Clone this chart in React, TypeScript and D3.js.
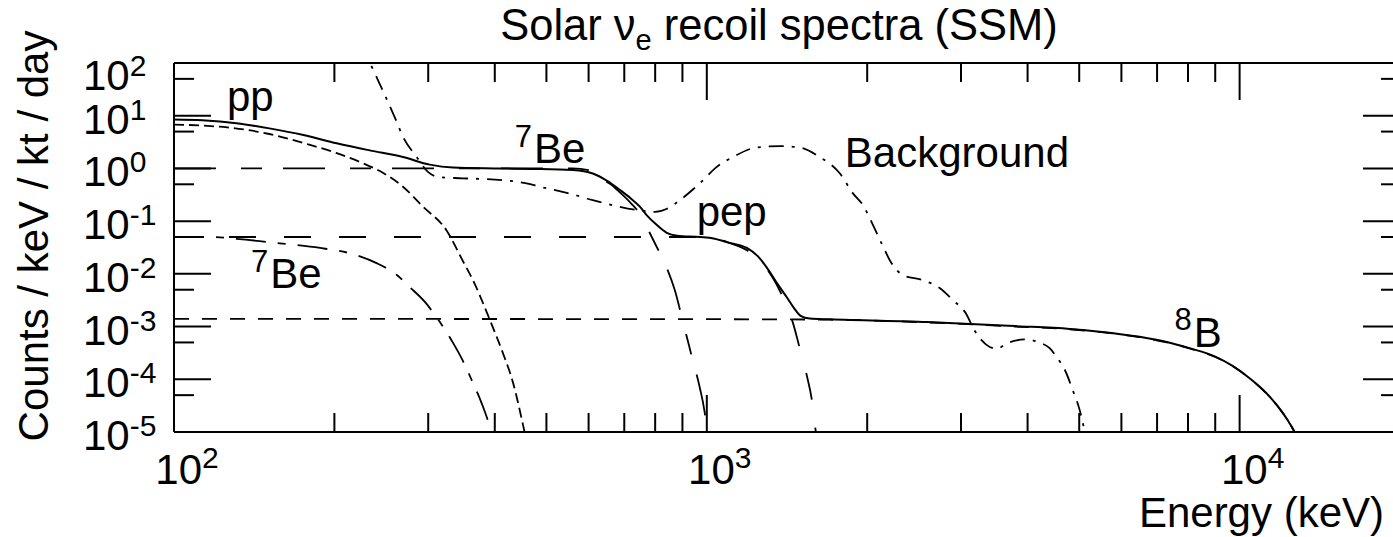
import React from "react";
import * as d3 from "d3";

type Pt = [number, number]; // [energy keV, counts / keV / kt / day]

const WIDTH = 1393;
const HEIGHT = 537;

const energyDomain: [number, number] = [100, 20000];
const countDomain: [number, number] = [1e-5, 1e2];

const xDecades = [100, 1000, 10000];
const yDecades = [1e2, 1e1, 1e0, 1e-1, 1e-2, 1e-3, 1e-4, 1e-5];
const yMinor = [50, 5, 0.5, 0.05, 0.005, 0.0005, 0.00005];

// Summed solar neutrino recoil spectrum
const totalSpectrum: Pt[] = [
  [100, 8.5], [113, 8.2], [131, 7.2], [151, 5.75], [175, 4.3], [202, 3.0], [233, 2.2],
  [269, 1.65], [302, 1.18], [334, 1.04], [400, 1.0], [470, 0.98], [561, 0.93], [611, 0.8],
  [650, 0.58], [687, 0.39], [720, 0.27], [748, 0.19], [771, 0.13], [805, 0.085], [841, 0.06],
  [880, 0.053], [970, 0.05], [1030, 0.047], [1089, 0.04], [1189, 0.031], [1250, 0.021],
  [1297, 0.013], [1350, 0.007], [1413, 0.0036], [1460, 0.0022], [1500, 0.0016], [1560, 0.00142],
  [1700, 0.00137], [2590, 0.00122], [3800, 0.00102], [4800, 0.0009], [5460, 0.0008],
  [6490, 0.00064], [7300, 0.00051], [8050, 0.00039], [9000, 0.00027], [9700, 0.00018],
  [10500, 0.0001], [11220, 0.000055], [12050, 0.000023], [12500, 0.000013], [12680, 0.00001],
];

const ppSpectrum: Pt[] = [
  [100, 6.8], [113, 6.5], [126, 6.0], [151, 4.5], [180, 2.8], [202, 1.95], [226, 1.26],
  [247, 0.82], [269, 0.45], [293, 0.19], [325, 0.066], [348, 0.018], [364, 0.0076],
  [392, 0.0013], [414, 0.00032], [433, 0.000085], [452, 0.0000135], [456, 0.000009],
];

const be7HighSpectrum: Pt[] = [
  [100, 1.0], [560, 1.0], [600, 0.93], [631, 0.65], [660, 0.5], [687, 0.35], [720, 0.22],
  [748, 0.14], [782, 0.059], [806, 0.032], [841, 0.013], [871, 0.0049], [901, 0.0013],
  [941, 0.00023], [970, 0.00007], [990, 0.000025], [1003, 0.000009],
];

const be7LowSpectrum: Pt[] = [
  [100, 0.05], [118, 0.05], [131, 0.046], [158, 0.038], [188, 0.031], [219, 0.023],
  [240, 0.016], [262, 0.0095], [277, 0.0056], [296, 0.0029], [311, 0.0015], [334, 0.00049],
  [348, 0.00023], [364, 0.000085], [378, 0.000035], [392, 0.000012], [395, 0.000009],
];

const pepSpectrum: Pt[] = [
  [100, 0.05], [1000, 0.05], [1050, 0.046], [1100, 0.039], [1190, 0.028], [1250, 0.019],
  [1300, 0.012], [1350, 0.0065], [1413, 0.0024], [1450, 0.0012], [1493, 0.0004],
  [1540, 0.00012], [1575, 0.00004], [1600, 0.000011], [1605, 0.000009],
];

const b8Spectrum: Pt[] = [
  [100, 0.0014], [1000, 0.00138], [1700, 0.00135], [2590, 0.0012], [3800, 0.001],
  [4800, 0.00089], [5460, 0.00079], [6490, 0.00063], [7300, 0.0005], [8050, 0.000385],
  [9000, 0.000265], [9700, 0.000178], [10500, 0.0001], [11220, 0.000054], [12050, 0.000023],
  [12500, 0.000013], [12680, 0.00001],
];

const backgroundSpectrum: Pt[] = [
  [222, 200], [233, 100], [242, 45], [251, 20], [260, 9], [269, 4], [286, 1.6], [300, 0.85],
  [316, 0.68], [348, 0.65], [414, 0.6], [459, 0.52], [486, 0.45], [561, 0.32], [611, 0.25],
  [667, 0.2], [748, 0.16], [800, 0.15], [840, 0.17], [890, 0.25], [970, 0.52], [1044, 1.07],
  [1120, 1.65], [1241, 2.5], [1371, 2.65], [1494, 2.5], [1628, 1.65], [1778, 0.8],
  [1879, 0.34], [1964, 0.2], [2050, 0.085], [2128, 0.038], [2221, 0.016], [2333, 0.0095],
  [2543, 0.0076], [2735, 0.0054], [2895, 0.0032], [3072, 0.0017], [3162, 0.00094],
  [3350, 0.00045], [3500, 0.00038], [3670, 0.00049], [3980, 0.00057], [4200, 0.0005],
  [4400, 0.00039], [4540, 0.00026], [4700, 0.00015], [4860, 0.000063], [5010, 0.000026],
  [5120, 0.00001], [5130, 0.000009],
];

const FONT = "'Liberation Sans', Arial, Helvetica, sans-serif";

export default function App() {
  const x = d3.scaleLog().domain(energyDomain).range([174, 1400]);
  const y = d3.scaleLog().domain(countDomain).range([432, 63]);
  const [x0, x1] = x.range();
  const [yb, yt] = y.range();

  const line = d3
    .line<Pt>()
    .x((d) => x(d[0]))
    .y((d) => y(d[1]))
    .curve(d3.curveMonotoneX);

  const series = [
    { key: "background", data: backgroundSpectrum, dash: "15 8 3 8", width: 1.8 },
    { key: "b8", data: b8Spectrum, dash: "15 13", width: 1.8 },
    { key: "be7low", data: be7LowSpectrum, dash: "30 12 8 12", width: 1.8 },
    { key: "pep", data: pepSpectrum, dash: "27 28", width: 1.8 },
    { key: "be7high", data: be7HighSpectrum, dash: "42 25 21 21", width: 1.8 },
    { key: "pp", data: ppSpectrum, dash: "10 5", width: 1.8 },
    { key: "total", data: totalSpectrum, dash: undefined, width: 2 },
  ];

  const xMinor = x
    .ticks()
    .filter((v) => v > energyDomain[0] && v < energyDomain[1] && !xDecades.includes(v));

  const MAJ = 37;
  const MIN = 19;
  const exp = (v: number) => String(Math.round(Math.log10(v)));

  return (
    <svg
      width={WIDTH}
      height={HEIGHT}
      style={{ position: "absolute", left: 0, top: 0, background: "#fff" }}
      fontFamily={FONT}
    >
      <defs>
        <clipPath id="plot-area">
          <rect x={x0} y={yt} width={x1 - x0} height={yb - yt + 1} />
        </clipPath>
      </defs>

      {/* title */}
      <text x={779} y={40} fontSize={43.5} textAnchor="middle">
        Solar ν<tspan fontSize={29} dy={10}>e</tspan>
        <tspan dy={-10}> recoil spectra (SSM)</tspan>
      </text>

      {/* curves */}
      <g clipPath="url(#plot-area)" fill="none" stroke="#000">
        {series.map((s) => (
          <path
            key={s.key}
            d={line(s.data) ?? ""}
            strokeWidth={s.width}
            strokeDasharray={s.dash}
            strokeLinejoin="round"
          />
        ))}
      </g>

      {/* frame */}
      <g stroke="#000" strokeWidth={2} fill="none">
        <line x1={x0} y1={yt} x2={x0} y2={yb} />
        <line x1={x0} y1={yb} x2={x1} y2={yb} />
        <line x1={x0} y1={yt} x2={x1} y2={yt} />
        <line x1={x1} y1={yt} x2={x1} y2={yb} />

        {xDecades.map((v) => (
          <g key={`xd${v}`}>
            <line x1={x(v)} x2={x(v)} y1={yb} y2={yb - MAJ} />
            <line x1={x(v)} x2={x(v)} y1={yt} y2={yt + MAJ} />
          </g>
        ))}
        {xMinor.map((v) => (
          <g key={`xm${v}`}>
            <line x1={x(v)} x2={x(v)} y1={yb} y2={yb - MIN} />
            <line x1={x(v)} x2={x(v)} y1={yt} y2={yt + MIN} />
          </g>
        ))}
        {yDecades.map((v) => (
          <g key={`yd${v}`}>
            <line x1={x0} x2={x0 + MAJ} y1={y(v)} y2={y(v)} />
            <line x1={x1} x2={x1 - MAJ} y1={y(v)} y2={y(v)} />
          </g>
        ))}
        {yMinor.map((v) => (
          <g key={`ym${v}`}>
            <line x1={x0} x2={x0 + MIN + 1} y1={y(v)} y2={y(v)} />
            <line x1={x1} x2={x1 - MIN} y1={y(v)} y2={y(v)} />
          </g>
        ))}
      </g>

      {/* y tick labels */}
      {yDecades.map((v) => (
        <text key={`yl${v}`} x={83} y={Math.max(y(v) + 18, 90)} fontSize={42}>
          10<tspan fontSize={30} dy={-14}>{exp(v)}</tspan>
        </text>
      ))}

      {/* x tick labels */}
      {xDecades.map((v) => (
        <text key={`xl${v}`} x={x(v) + 13} y={484} fontSize={42} textAnchor="middle">
          10<tspan fontSize={30} dy={-16}>{exp(v)}</tspan>
        </text>
      ))}

      {/* axis titles */}
      <text x={1384} y={527} fontSize={42} textAnchor="end">
        Energy (keV)
      </text>
      <text
        transform="translate(48,236) rotate(-90)"
        fontSize={42}
        textAnchor="middle"
      >
        Counts / keV / kt / day
      </text>

      {/* curve annotations */}
      <text x={x(125.7)} y={y(12.3)} fontSize={42}>pp</text>
      <text x={x(436)} y={y(1.26)} fontSize={42}>
        <tspan fontSize={31} dy={-16}>7</tspan>
        <tspan dy={16} dx={2}>Be</tspan>
      </text>
      <text x={x(957)} y={y(0.081)} fontSize={42}>pep</text>
      <text x={x(1816)} y={y(1.06)} fontSize={42}>Background</text>
      <text x={x(139.5)} y={y(0.0054)} fontSize={42}>
        <tspan fontSize={31} dy={-16}>7</tspan>
        <tspan dy={16} dx={2}>Be</tspan>
      </text>
      <text x={x(7550)} y={y(0.00041)} fontSize={42}>
        <tspan fontSize={31} dy={-17}>8</tspan>
        <tspan dy={17} dx={2}>B</tspan>
      </text>
    </svg>
  );
}
